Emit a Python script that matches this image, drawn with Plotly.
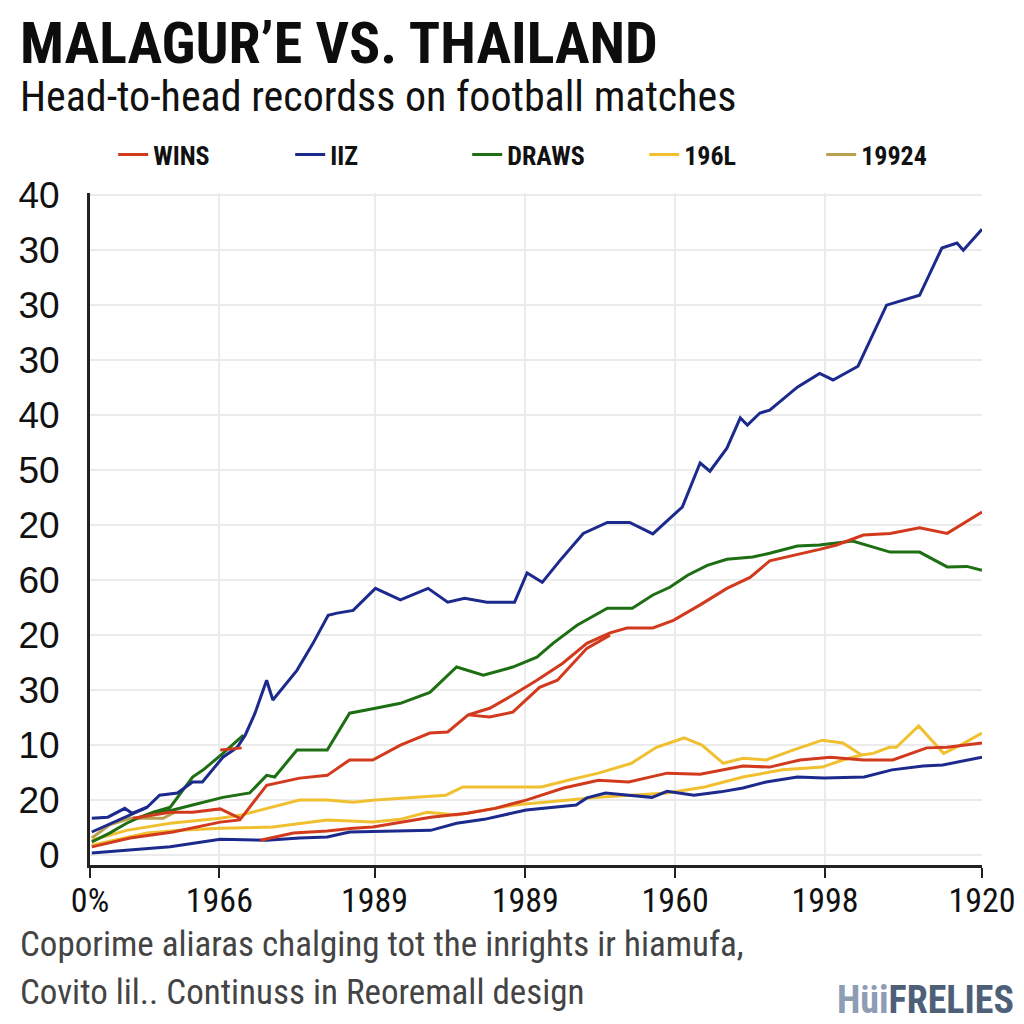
import plotly.graph_objects as go

# ---------------- data ----------------
x_ticks = [0, 14.5, 31.9, 48.8, 65.6, 82.4, 100]
x_tick_labels = ["0%", "1966", "1989", "1989", "1960", "1998", "1920"]
y_ticks = [0, 10, 20, 30, 40, 50, 60, 70, 80, 90, 100, 110, 120]
y_tick_labels = ["0", "20", "10", "30", "20", "60", "20", "50", "40", "30", "30", "30", "40"]

# IIZ (blue)
iiz_x = [0.2, 2.0, 3.9, 4.7, 6.4, 7.8, 9.8, 11.5, 12.6, 14.9, 16.5, 17.4, 18.5, 19.8, 20.5, 23.2, 25.0, 26.7,
         27.7, 29.5, 32.0, 34.8, 37.9, 40.1, 42.0, 44.5, 47.6, 49.0, 50.7, 52.7, 55.3, 58.0, 60.5, 63.1, 66.4,
         68.4, 69.5, 71.4, 72.9, 73.7, 75.1, 76.2, 79.3, 81.8, 83.3, 86.1, 89.3, 93.0, 95.5, 97.2, 97.9, 100]
iiz_y = [6.7, 6.9, 8.5, 7.6, 8.7, 10.9, 11.3, 13.3, 13.3, 17.8, 19.6, 21.8, 25.8, 31.8, 28.2, 33.6, 38.5, 43.6,
         44.0, 44.5, 48.5, 46.4, 48.5, 46.0, 46.7, 46.0, 46.0, 51.3, 49.6, 53.6, 58.5, 60.5, 60.5, 58.4, 63.3,
         71.3, 69.8, 74.0, 79.5, 78.2, 80.4, 80.9, 85.1, 87.6, 86.4, 88.9, 100.0, 101.8, 110.4, 111.3, 110.0, 113.8]
iiz_start_x = [0.2, 2.6, 4.5, 6.4]
iiz_start_y = [4.2, 6.0, 7.3, 8.7]
iiz_low_x = [0.2, 4.5, 9.0, 14.6, 19.8, 23.5, 26.6, 29.1, 35.9, 38.2, 41.1, 44.2, 48.9, 54.5, 55.7, 57.8, 60.4,
             63.0, 64.7, 67.7, 70.7, 73.2, 75.8, 79.3, 82.3, 86.8, 89.9, 93.4, 95.6, 100]
iiz_low_y = [0.4, 0.9, 1.5, 2.9, 2.7, 3.1, 3.3, 4.2, 4.5, 4.5, 5.8, 6.5, 8.2, 9.1, 10.4, 11.3, 10.9, 10.5, 11.6,
             10.9, 11.5, 12.2, 13.3, 14.2, 14.0, 14.2, 15.5, 16.2, 16.4, 17.8]

# DRAWS (green)
draws_x = [0.2, 2.2, 4.1, 5.6, 7.1, 9.3, 11.5, 14.9, 17.9, 19.8, 20.7, 23.2, 26.6, 29.1, 32.0, 34.8, 38.1, 41.1,
           44.1, 47.4, 50.1, 51.9, 54.6, 58.0, 60.8, 63.1, 65.0, 67.0, 69.2, 71.4, 74.3, 76.2, 79.3, 81.8, 85.5,
           86.3, 89.7, 93.0, 96.1, 98.3, 100]
draws_y = [2.4, 4.0, 5.8, 6.9, 7.8, 8.2, 9.1, 10.5, 11.3, 14.5, 14.2, 19.1, 19.1, 25.8, 26.7, 27.6, 29.6, 34.2,
           32.7, 34.2, 36.0, 38.5, 41.8, 44.9, 44.9, 47.3, 48.7, 50.9, 52.7, 53.8, 54.2, 54.9, 56.2, 56.4, 57.1,
           56.7, 55.1, 55.1, 52.4, 52.5, 51.8]
draws_branch_x = [7.1, 9.0, 11.5, 12.7, 14.9, 17.2]
draws_branch_y = [7.8, 8.7, 14.2, 15.5, 18.5, 21.8]

# WINS (red)
wins_x = [0.2, 4.5, 9.3, 12.0, 14.6, 16.8, 19.8, 23.5, 26.6, 29.1, 31.7, 34.8, 38.1, 40.1, 42.4, 44.8, 47.4,
          50.1, 53.0, 55.7, 58.3, 60.2, 63.1, 65.4, 68.4, 71.4, 74.0, 76.2, 79.6, 81.8, 83.7, 86.7, 89.7, 93.0,
          96.1, 100]
wins_y = [1.5, 3.1, 4.2, 5.1, 6.0, 6.4, 12.7, 14.0, 14.5, 17.3, 17.3, 20.0, 22.2, 22.4, 25.5, 26.7, 29.1, 31.8,
          34.9, 38.5, 40.4, 41.3, 41.3, 42.7, 45.5, 48.5, 50.5, 53.5, 54.7, 55.6, 56.4, 58.2, 58.5, 59.5, 58.5, 62.4]
wins_b_x = [42.4, 44.8, 47.4, 50.4, 52.4, 55.7, 58.3]
wins_b_y = [25.5, 25.1, 26.0, 30.5, 31.8, 37.6, 40.0]
wins_c_x = [4.8, 9.0, 11.5, 14.6, 16.8]
wins_c_y = [6.7, 7.8, 7.8, 8.4, 6.7]
wins_d_x = [14.6, 17.0]
wins_d_y = [19.1, 19.5]
wins_low_x = [19.1, 22.8, 26.6, 29.5, 31.7, 34.8, 38.2, 42.3, 45.4, 48.9, 53.1, 57.0, 60.4, 64.7, 68.4, 73.2,
              76.2, 79.6, 83.0, 86.7, 90.0, 93.8, 96.1, 100]
wins_low_y = [2.7, 4.0, 4.4, 4.9, 5.1, 6.0, 6.9, 7.6, 8.5, 10.0, 12.2, 13.6, 13.3, 14.9, 14.7, 16.2, 16.0, 17.3,
              17.8, 17.3, 17.3, 19.5, 19.6, 20.4]

# 196L (yellow)
s196_x = [0.2, 4.1, 9.0, 14.6, 17.0, 19.8, 23.5, 26.6, 29.5, 32.0, 35.9, 39.9, 41.8, 50.6, 53.6, 57.0, 60.7,
          63.5, 66.6, 68.6, 71.0, 73.2, 75.8, 78.8, 82.1, 84.4, 86.5, 87.8, 89.6, 90.4, 92.9, 95.7, 97.6, 100]
s196_y = [2.7, 4.5, 5.8, 6.7, 7.3, 8.5, 10.0, 10.0, 9.6, 10.0, 10.5, 10.9, 12.4, 12.4, 13.6, 14.9, 16.7, 19.6,
          21.3, 20.0, 16.7, 17.6, 17.3, 19.1, 20.9, 20.4, 18.2, 18.5, 19.6, 19.6, 23.5, 18.5, 20.0, 22.2]
s196_low_x = [0.2, 6.4, 10.1, 14.6, 20.5, 26.6, 31.7, 34.8, 37.8, 41.1, 47.6, 54.0, 57.0, 64.7, 68.9, 73.2,
              77.6, 82.1, 84.4, 86.5]
s196_low_y = [1.8, 4.0, 4.5, 4.9, 5.1, 6.4, 6.0, 6.5, 7.8, 7.3, 9.1, 10.0, 10.5, 11.3, 12.4, 14.2, 15.5, 16.0,
              17.3, 18.2]

# 19924 (olive)
s19924_x = [0.2, 2.2, 4.5, 8.2, 9.5]
s19924_y = [3.1, 5.5, 6.7, 6.7, 7.8]


def join(*segs):
    xs, ys = [], []
    for sx, sy in segs:
        if xs:
            xs.append(None)
            ys.append(None)
        xs.extend(sx)
        ys.extend(sy)
    return xs, ys


NARROW = "Liberation Sans Narrow, Arial Narrow, Roboto Condensed, Liberation Sans, sans-serif"

fig = go.Figure()

series = [
    ("19924", "#b8a04c", join((s19924_x, s19924_y))),
    ("196L", "#f0c030", join((s196_x, s196_y), (s196_low_x, s196_low_y))),
    ("DRAWS", "#1e6e14", join((draws_x, draws_y), (draws_branch_x, draws_branch_y))),
    ("IIZ", "#1b2a8c", join((iiz_x, iiz_y), (iiz_start_x, iiz_start_y), (iiz_low_x, iiz_low_y))),
    ("WINS", "#d23a1e", join((wins_x, wins_y), (wins_b_x, wins_b_y), (wins_c_x, wins_c_y),
                             (wins_d_x, wins_d_y), (wins_low_x, wins_low_y))),
]
legend_rank = {"WINS": 1, "IIZ": 2, "DRAWS": 3, "196L": 4, "19924": 5}
for name, color, (xs, ys) in series:
    fig.add_trace(go.Scatter(x=xs, y=ys, mode="lines", name=name,
                             line=dict(color=color, width=3),
                             legendrank=legend_rank[name], connectgaps=False))

# page body has an 8px margin, so the figure is sized/positioned to compensate
fig.update_layout(
    width=1016, height=1016,
    paper_bgcolor="white", plot_bgcolor="white",
    margin=dict(l=82, r=42, t=185, b=159, autoexpand=False),
    showlegend=True,
    legend=dict(orientation="h", x=0.026, y=1.057, xanchor="left", yanchor="middle",
                font=dict(family=NARROW, size=26, color="#111", weight="bold"),
                entrywidth=132, entrywidthmode="pixels", bgcolor="rgba(0,0,0,0)",
                traceorder="normal"),
    xaxis=dict(range=[0, 100], tickvals=x_ticks, ticktext=x_tick_labels, automargin=False,
               showgrid=True, gridcolor="#ebebeb", gridwidth=2, zeroline=False,
               showline=True, linecolor="#222", linewidth=3,
               ticks="outside", ticklen=10, tickwidth=2, tickcolor="#222",
               ticklabelstandoff=-7,
               tickfont=dict(family=NARROW, size=34, color="#111")),
    yaxis=dict(range=[-1.8, 120.4], tickvals=y_ticks, ticktext=y_tick_labels, automargin=False,
               showgrid=True, gridcolor="#ebebeb", gridwidth=2, zeroline=False,
               showline=True, linecolor="#222", linewidth=3, ticks="",
               ticklabelstandoff=20,
               tickfont=dict(family="Liberation Sans, Arial, sans-serif", size=37, color="#111")),
)

annotations = [
    dict(text="<b>MALAGUR’E VS. THAILAND</b>", x=-0.0807, y=1.223, xanchor="left", yanchor="middle",
         font=dict(family=NARROW, size=58, color="#0d0d0d", weight=900)),
    dict(text="Head-to-head recordss on football matches", x=-0.0807, y=1.143, xanchor="left",
         yanchor="middle", font=dict(family=NARROW, size=42, color="#111")),
    dict(text="Coporime aliaras chalging tot the inrights ir hiamufa,", x=-0.0807, y=-0.119,
         xanchor="left", yanchor="middle", font=dict(family=NARROW, size=35, color="#444")),
    dict(text="Covito lil.. Continuss in Reoremall design", x=-0.0807, y=-0.189,
         xanchor="left", yanchor="middle", font=dict(family=NARROW, size=35, color="#444")),
    dict(text="<b><span style='color:#8d9db4'>Hüi</span>FRELIES</b>", x=1.038, y=-0.201,
         xanchor="right", yanchor="middle", font=dict(family=NARROW, size=38, color="#4e5f78")),
]
for a in annotations:
    a.update(xref="paper", yref="paper", showarrow=False)
fig.update_layout(annotations=annotations)

fig.write_html("out.html")
